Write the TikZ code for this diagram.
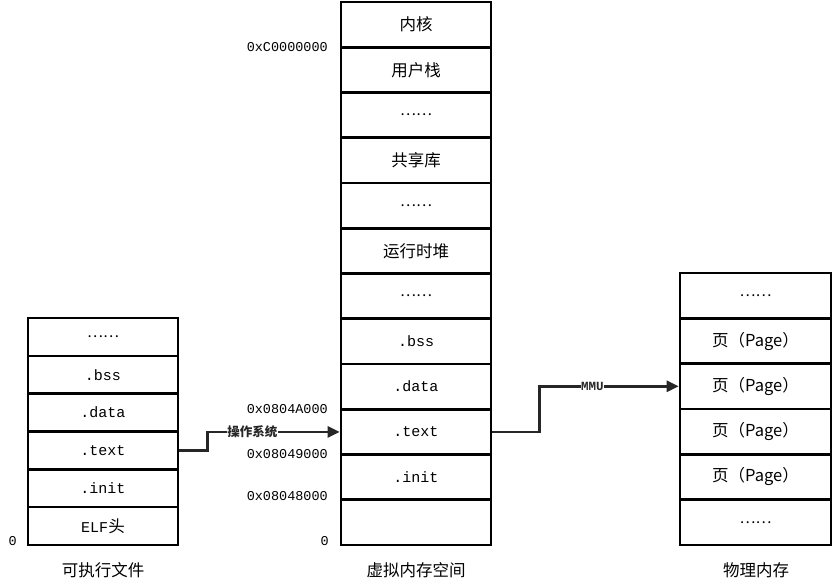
\documentclass[tikz,border=0pt]{standalone}
\usepackage{fontspec}
\setmainfont{Liberation Mono}
\newfontfamily\cjk{Noto Sans CJK SC}
\usepackage{tikz}
\usetikzlibrary{arrows.meta,positioning}
\tikzset{
  cell/.style={draw,line width=2.6pt,minimum width=150pt,inner sep=0pt,font=\fontsize{15}{16}\selectfont},
  conn/.style={-{Triangle[length=12pt,width=11pt]},line width=2.6pt,black!85},
  addr/.style={anchor=east,inner sep=1pt,font=\fontsize{13.5}{15}\selectfont},
  caption/.style={font=\cjk\fontsize{16.5}{18}\selectfont},
  tag/.style={fill=white,inner sep=0.5pt,font=\bfseries\fontsize{12.5}{14}\selectfont}
}
\newcommand{\gapdots}{{\cjk ……}}
\newcommand{\zh}[1]{{\cjk\fontsize{16.5}{18}\selectfont #1}}
\begin{document}
\begin{tikzpicture}[x=1pt,y=-1pt]
\useasboundingbox (0,0) rectangle (836,587);
% executable file
\foreach \lbl [count=\i] in {{\gapdots},{.bss},{.data},{.text},{.init},{ELF\zh{头}}}
  \node[cell,minimum height=37.83pt] (exe\i) at (103,{318+37.83*(\i-0.5)}) {\lbl};
% virtual address space
\foreach \lbl [count=\i] in {{\zh{内核}},{\zh{用户栈}},{\gapdots},{\zh{共享库}},{\gapdots},{\zh{运行时堆}},{\gapdots},{.bss},{.data},{.text},{.init},{}}
  \node[cell,minimum height=45.25pt] (va\i) at (416,{2+45.25*(\i-0.5)}) {\lbl};
% physical memory
\foreach \lbl [count=\i] in {{\gapdots},{\zh{页（Page）}},{\zh{页（Page）}},{\zh{页（Page）}},{\zh{页（Page）}},{\gapdots}}
  \node[cell,minimum width=151pt,minimum height=45.33pt] (pm\i) at (755.5,{273+45.33*(\i-0.5)}) {\lbl};
% addresses
\node[addr] (aC) at (329,47) {0xC0000000};
\node[addr] (aA) at (329,409) {0x0804A000};
\node[addr] (a9) at (329,454) {0x08049000};
\node[addr] (a8) at (329,496) {0x08048000};
\node[addr] (z2) at (330,541) {0};
\node[addr] (z1) at (18,541) {0};
% captions
\node[caption] (capexe) at (103,570) {可执行文件};
\node[caption] (capva) at (416,570) {虚拟内存空间};
\node[caption] (cappm) at (756,570) {物理内存};
% mappings
\draw[conn] (exe4.east) -- ++(28,0) |- (va10.west)
  node[tag,pos=0.67] (os) {\cjk 操作系统};
\draw[conn] (va10.east) -- ++(47,0) |- (pm3.west)
  node[tag,pos=0.69] (mmu) {MMU};
\end{tikzpicture}
\end{document}
